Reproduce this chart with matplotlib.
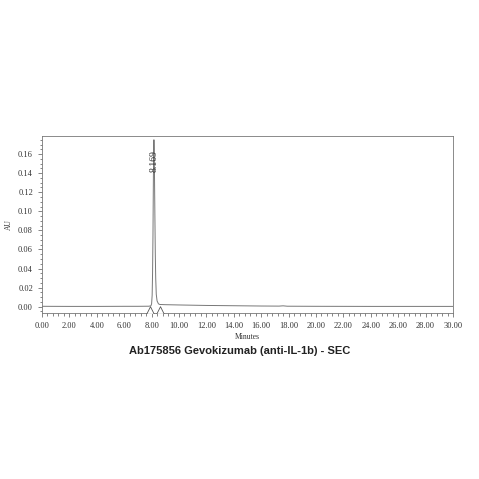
import matplotlib
matplotlib.use("Agg")
import matplotlib.pyplot as plt
from matplotlib.ticker import MultipleLocator, FormatStrFormatter

# chromatogram trace (minutes, AU)
times = [0.0, 2.0, 4.0, 6.0, 7.0, 7.8, 7.95, 8.00, 8.04, 8.07, 8.10, 8.13, 8.15, 8.169,
         8.19, 8.21, 8.24, 8.27, 8.30, 8.34, 8.40, 8.50, 8.60, 9.0, 10.0, 12.0, 14.0,
         16.0, 17.3, 17.6, 17.9, 20.0, 24.0, 28.0, 30.0]
au = [0.0004, 0.0003, 0.0003, 0.0004, 0.0004, 0.0005, 0.0009, 0.003, 0.012, 0.035, 0.075,
      0.135, 0.163, 0.175, 0.165, 0.140, 0.095, 0.055, 0.030, 0.013, 0.006, 0.003, 0.0023,
      0.0021, 0.0018, 0.0013, 0.0010, 0.0007, 0.0006, 0.0009, 0.0005, 0.0004, 0.0003,
      0.0003, 0.0003]

peak_rt = 8.169
peak_label = "8.169"
marks_x = [7.88, 8.61]
marks_y = [-0.0035, -0.0032]

title = "Ab175856 Gevokizumab (anti-IL-1b) - SEC"

fig = plt.figure(figsize=(4.79, 4.79), dpi=100)
ax = fig.add_axes([0.0877, 0.3466, 0.858, 0.3695])

ax.plot(times, au, color="#777777", lw=0.7)
ax.scatter(marks_x, marks_y, marker="^", s=30, facecolors="white",
           edgecolors="#555555", linewidths=0.6, zorder=3)
ax.text(peak_rt, 0.153, peak_label, rotation=90, ha="center", va="center",
        fontsize=7, family="Liberation Serif", color="#333333")

ax.set_xlim(0, 30)
ax.set_ylim(-0.0066, 0.179)
ax.xaxis.set_major_locator(MultipleLocator(2))
ax.xaxis.set_minor_locator(MultipleLocator(0.4))
ax.yaxis.set_major_locator(MultipleLocator(0.02))
ax.yaxis.set_minor_locator(MultipleLocator(0.005))
ax.xaxis.set_major_formatter(FormatStrFormatter("%.2f"))
ax.yaxis.set_major_formatter(FormatStrFormatter("%.2f"))
ax.tick_params(which="both", direction="out", colors="#555555", width=0.5,
               labelsize=6, labelcolor="#333333")
ax.tick_params(which="major", length=3)
ax.tick_params(which="minor", length=1.8)
for lab in ax.get_xticklabels() + ax.get_yticklabels():
    lab.set_family("Liberation Serif")
for sp in ax.spines.values():
    sp.set_color("#777777")
    sp.set_linewidth(0.6)

ax.set_xlabel("Minutes", fontsize=5.5, family="Liberation Serif", color="#333333", labelpad=2)
ax.set_ylabel("AU", fontsize=5.5, family="Liberation Serif", color="#333333", labelpad=4)

fig.text(0.5, 0.267, title, ha="center", va="center", fontsize=8,
         fontweight="bold", family="Liberation Sans", color="#222222")

fig.savefig("out.png", dpi=100)
